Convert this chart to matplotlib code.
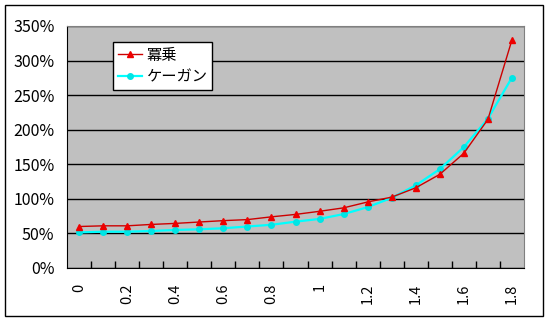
import matplotlib
matplotlib.use("Agg")
import matplotlib.pyplot as plt
from matplotlib.patches import Rectangle
from matplotlib.ticker import PercentFormatter, FixedLocator
import numpy as np

plt.rcParams['font.family'] = ['Noto Sans CJK JP', 'DejaVu Sans']

# data
x_labels = ['0', '0.1', '0.2', '0.3', '0.4', '0.5', '0.6', '0.7', '0.8', '0.9',
            '1', '1.1', '1.2', '1.3', '1.4', '1.5', '1.6', '1.7', '1.8']
power = [0.60, 0.61, 0.61, 0.63, 0.645, 0.665, 0.685, 0.70, 0.74, 0.775,
         0.82, 0.87, 0.955, 1.025, 1.16, 1.355, 1.66, 2.15, 3.30]
kagan = [0.515, 0.525, 0.525, 0.535, 0.55, 0.56, 0.575, 0.60, 0.625, 0.67,
         0.71, 0.78, 0.88, 1.015, 1.195, 1.43, 1.75, 2.16, 2.755]
names = ['冪乗', 'ケーガン']

fig = plt.figure(figsize=(5.49, 3.20), dpi=100)
# outer frame of the chart
fig.patches.append(Rectangle((5 / 549, 4 / 320), 538 / 549, 311 / 320,
                             transform=fig.transFigure, fill=False,
                             edgecolor='black', linewidth=1.0))

ax = fig.add_axes([67 / 549, (320 - 268) / 320, 457 / 549, 242 / 320])
ax.set_facecolor('#c0c0c0')

pos = np.arange(len(x_labels))
ax.plot(pos, power, color='#cc0000', lw=1.0, marker='^', ms=5,
        mfc='#ee0000', mec='#ee0000', label=names[0], zorder=3)
ax.plot(pos, kagan, color='#00ffff', lw=1.6, marker='o', ms=4,
        mfc='#00e5e5', mec='#00e5e5', label=names[1], zorder=2)

ax.set_xlim(-0.5, len(x_labels) - 0.5)
ax.set_ylim(0, 3.5)
ax.set_yticks(np.arange(0, 3.51, 0.5))
ax.yaxis.set_major_formatter(PercentFormatter(1.0, decimals=0))
ax.grid(axis='y', color='black', lw=1.0)
ax.set_axisbelow(True)

ax.set_xticks(pos[::2])
ax.set_xticklabels(x_labels[::2], rotation=90, fontsize=10.5)
ax.tick_params(axis='x', which='major', length=0, pad=11)
ax.xaxis.set_minor_locator(FixedLocator(pos[:-1] + 0.5))
ax.tick_params(axis='x', which='minor', direction='in', length=5, width=1, color='black')
ax.tick_params(axis='y', length=0, pad=9, labelsize=11.5)

for s in ['top', 'right']:
    ax.spines[s].set_color('#808080')
for s in ['left', 'bottom']:
    ax.spines[s].set_color('black')

leg = ax.legend(loc='upper left', bbox_to_anchor=((113 - 67) / 457, (268 - 42) / 242),
                fontsize=11, frameon=True, fancybox=False, framealpha=1,
                edgecolor='black', borderpad=0.3, handlelength=1.6,
                handletextpad=0.3, labelspacing=0.3, borderaxespad=0)
leg.get_frame().set_linewidth(1.0)

fig.savefig('out.png', dpi=100)
